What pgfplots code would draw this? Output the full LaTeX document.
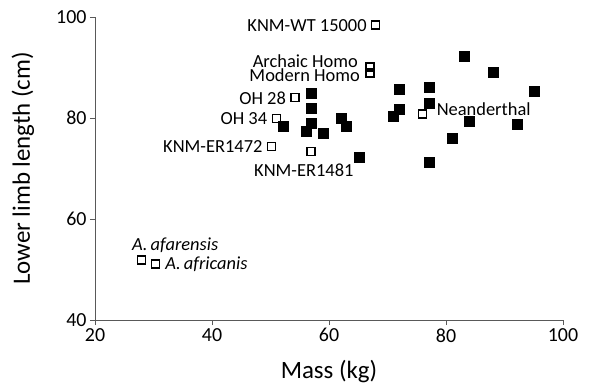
\documentclass[border=0pt]{standalone}
\usepackage{fontspec}
\setmainfont{Carlito}
\usepackage{pgfplots}
\pgfplotsset{compat=1.18}
\begin{document}
\begin{tikzpicture}
\useasboundingbox (-95bp,-68bp) rectangle (501bp,320bp);
\begin{axis}[
 scale only axis, width=468bp, height=303bp,
 xmin=20, xmax=100, ymin=40, ymax=100,
 axis x line*=bottom, axis y line*=left,
 axis line style={black!65, line width=0.9pt, -},
 xtick={20,40,...,100}, ytick={40,60,...,100},
 tick align=outside, major tick length=5bp,
 tick style={black!65, line width=0.9pt},
 ticklabel style={font=\fontsize{20}{22}\selectfont},
 /pgf/number format/assume math mode=true,
 xlabel={Mass (kg)}, ylabel={Lower limb length (cm)},
 label style={font=\fontsize{25}{28}\selectfont},
 xlabel style={at={([yshift=-52bp]axis description cs:0.5,0)}, anchor=center},
 ylabel style={at={([xshift=-72bp]axis description cs:0,0.5)}, anchor=center},
 clip=false,
]
\addplot[only marks, mark=square*, mark size=5bp, black] coordinates {
(83.1,92.3) (88.1,89.0) (95.0,85.3) (72.0,85.7) (77.1,86.1) (77.1,82.9)
(72.0,81.7) (71.0,80.4) (84.0,79.4) (92.1,78.8) (81.0,76.0) (77.1,71.3)
(65.1,72.2) (57.0,84.9) (57.0,81.9) (57.0,79.0) (56.1,77.3) (59.0,77.0)
(62.1,79.9) (63.0,78.3) (52.1,78.4)
};
\addplot[only marks, mark=square, mark size=4bp, black, line width=1.3pt, mark options={fill=white}] coordinates {
(68.0,98.4) (67.0,90.1) (67.0,88.9) (54.2,84.0) (51.0,79.9) (50.2,74.3)
(56.9,73.3) (76.0,80.8) (27.9,51.9) (30.3,51.1)
};
\begin{scope}[every node/.style={font=\fontsize{18.5}{20}\selectfont, inner sep=0pt}]
\node[anchor=east] at ([xshift=-9bp]axis cs:68.0,98.4) {KNM-WT 15000};
\node[anchor=east] at ([xshift=-12bp,yshift=6bp]axis cs:67.0,90.1) {Archaic Homo};
\node[anchor=east] at ([xshift=-10bp,yshift=-2bp]axis cs:67.0,88.9) {Modern Homo};
\node[anchor=east] at ([xshift=-9bp]axis cs:54.2,84.0) {OH 28};
\node[anchor=east] at ([xshift=-9bp]axis cs:51.0,79.9) {OH 34};
\node[anchor=east] at ([xshift=-9bp]axis cs:50.2,74.3) {KNM-ER1472};
\node[anchor=center] at ([xshift=-7bp,yshift=-18bp]axis cs:56.9,73.3) {KNM-ER1481};
\node[anchor=west] at ([xshift=14bp,yshift=5bp]axis cs:76.0,80.8) {Neanderthal};
\node[anchor=center] at ([xshift=34bp,yshift=15bp]axis cs:27.9,51.9) {\itshape A.\,afarensis};
\node[anchor=west] at ([xshift=10bp]axis cs:30.3,51.1) {\itshape A.\,africanis};
\end{scope}
\end{axis}
\end{tikzpicture}
\end{document}
